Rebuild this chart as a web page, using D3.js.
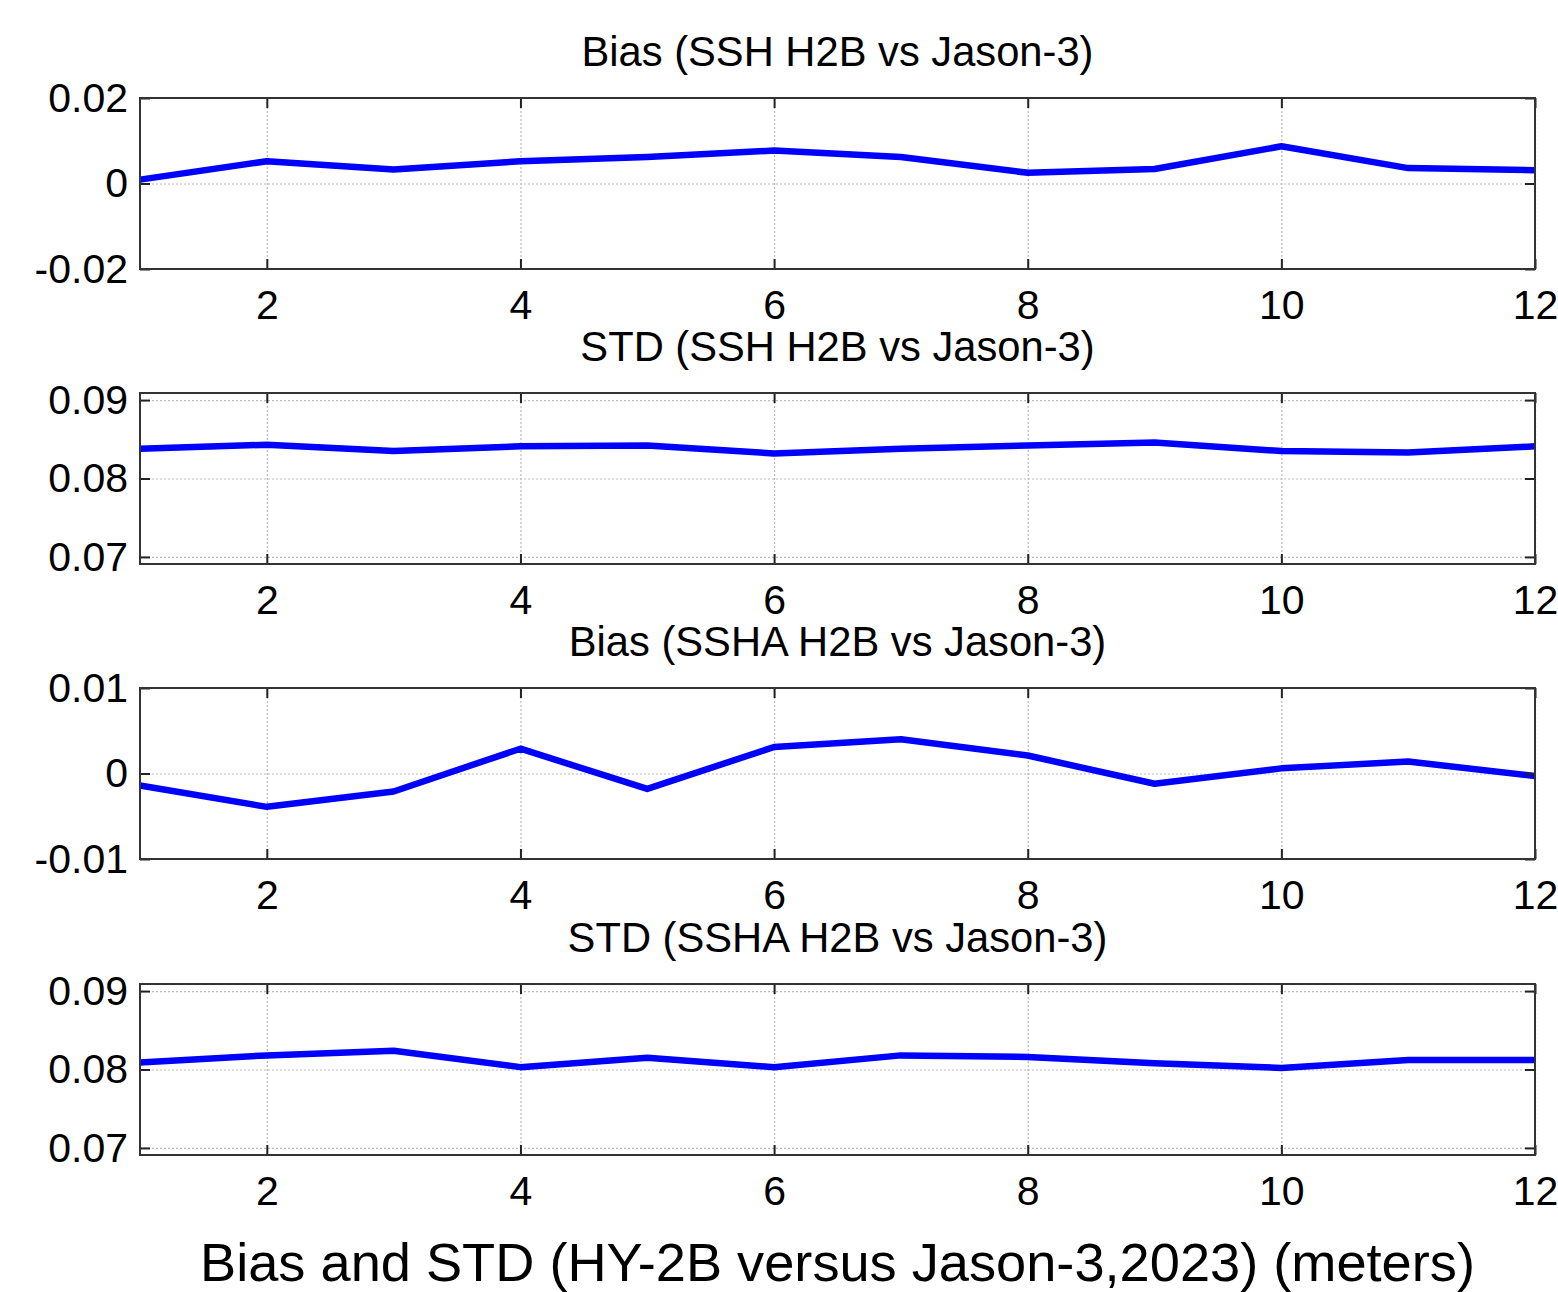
<!DOCTYPE html>
<html>
<head>
<meta charset="utf-8">
<script src="https://cdn.jsdelivr.net/npm/d3@7"></script>
<style>
  body { margin: 0; background: #fff; }
  svg { display: block; font-family: 'Liberation Sans', Arial, sans-serif; }
  .axis path { display: none; }
  .axis line { stroke: #222; stroke-width: 2; }
  .axis text { font-size: 41px; fill: #000; font-family: 'Liberation Sans', Arial, sans-serif; }
  .grid path { display: none; }
  .grid line { stroke: #bbb; stroke-width: 1.2; stroke-dasharray: 2 2; }
</style>
</head>
<body>
<div class="svg-container"></div>
<script>
const months = [1, 2, 3, 4, 5, 6, 7, 8, 9, 10, 11, 12]
const xTicks = [2, 4, 6, 8, 10, 12]

const biasSSH = [0.0009, 0.0052, 0.0033, 0.0052, 0.0062, 0.0077, 0.0062, 0.0025, 0.0034, 0.0087, 0.0036, 0.0031]
const stdSSH = [0.0838, 0.0843, 0.0835, 0.0841, 0.0842, 0.0832, 0.0838, 0.0842, 0.0846, 0.0835, 0.0833, 0.0841]
const biasSSHA = [-0.0014, -0.0039, -0.0021, 0.0029, -0.0018, 0.0031, 0.004, 0.0021, -0.0012, 0.0006, 0.0014, -0.0003]
const stdSSHA = [0.0809, 0.0818, 0.0824, 0.0803, 0.0815, 0.0803, 0.0818, 0.0816, 0.0808, 0.0802, 0.0812, 0.0812]

const titles = [
  'Bias (SSH H2B vs Jason-3)',
  'STD (SSH H2B vs Jason-3)',
  'Bias (SSHA H2B vs Jason-3)',
  'STD (SSHA H2B vs Jason-3)'
]
const yDomains = [[-0.02, 0.02], [0.0691, 0.0909], [-0.01, 0.01], [0.0691, 0.0909]]
const yTicks = [[-0.02, 0, 0.02], [0.07, 0.08, 0.09], [-0.01, 0, 0.01], [0.07, 0.08, 0.09]]
const yLabels = [['-0.02', '0', '0.02'], ['0.07', '0.08', '0.09'], ['-0.01', '0', '0.01'], ['0.07', '0.08', '0.09']]
const series = [biasSSH, stdSSH, biasSSHA, stdSSHA]
const xLabel = 'Bias and STD (HY-2B versus Jason-3,2023) (meters)'

const width = 1558
const height = 1292
const left = 140
const right = 1535
const tops = [98, 393, 688, 984]
const panelH = 171

const svg = d3
  .select('.svg-container')
  .append('svg')
  .attr('width', width)
  .attr('height', height)

const xScale = d3.scaleLinear().domain([1, 12]).range([left, right])

series.forEach((values, i) => {
  const top = tops[i]
  const bottom = top + panelH
  const yScale = d3.scaleLinear().domain(yDomains[i]).range([bottom, top])
  const g = svg.append('g')

  // grid
  g.append('g')
    .attr('class', 'grid')
    .attr('transform', 'translate(0,' + bottom + ')')
    .call(d3.axisBottom(xScale).tickValues(xTicks).tickSize(-panelH).tickFormat(''))
  g.append('g')
    .attr('class', 'grid')
    .attr('transform', 'translate(' + left + ',0)')
    .call(d3.axisLeft(yScale).tickValues(yTicks[i]).tickSize(-(right - left)).tickFormat(''))

  // line
  const line = d3
    .line()
    .x((d, j) => xScale(months[j]))
    .y((d) => yScale(d))
  g.append('path')
    .datum(values)
    .attr('fill', 'none')
    .attr('stroke', '#0000ff')
    .attr('stroke-width', 6.5)
    .attr('stroke-linejoin', 'round')
    .attr('d', line)

  // axes with inward ticks
  g.append('g')
    .attr('class', 'axis')
    .attr('transform', 'translate(0,' + bottom + ')')
    .call(d3.axisBottom(xScale).tickValues(xTicks).tickSize(-10).tickPadding(21))
  g.append('g')
    .attr('class', 'axis')
    .attr('transform', 'translate(0,' + top + ')')
    .call(d3.axisTop(xScale).tickValues(xTicks).tickSize(-10).tickFormat(''))
  g.append('g')
    .attr('class', 'axis')
    .attr('transform', 'translate(' + left + ',0)')
    .call(d3.axisLeft(yScale).tickValues(yTicks[i]).tickSize(-10).tickPadding(12)
      .tickFormat((d, j) => yLabels[i][j]))
  g.append('g')
    .attr('class', 'axis')
    .attr('transform', 'translate(' + right + ',0)')
    .call(d3.axisRight(yScale).tickValues(yTicks[i]).tickSize(-10).tickFormat(''))

  // box
  g.append('rect')
    .attr('x', left)
    .attr('y', top)
    .attr('width', right - left)
    .attr('height', panelH)
    .attr('fill', 'none')
    .attr('stroke', '#333')
    .attr('stroke-width', 2)

  g.append('text')
    .attr('x', (left + right) / 2)
    .attr('y', top - 32)
    .attr('text-anchor', 'middle')
    .attr('font-size', 41.7)
    .text(titles[i])
})

svg.append('text')
  .attr('x', (left + right) / 2)
  .attr('y', 1281)
  .attr('text-anchor', 'middle')
  .attr('font-size', 54.2)
  .text(xLabel)
</script>
</body>
</html>
